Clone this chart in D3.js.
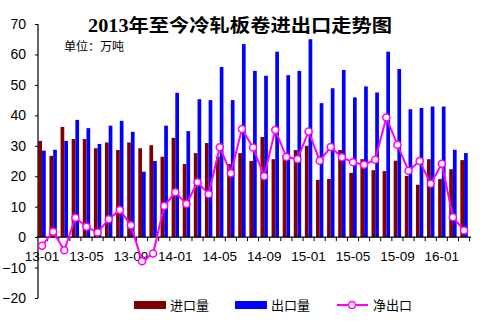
<!DOCTYPE html>
<html><head><meta charset="utf-8">
<script src="https://cdn.jsdelivr.net/npm/d3@7/dist/d3.min.js"></script>
<style>
html,body{margin:0;padding:0;background:#fff;}
svg{display:block;}
</style>
</head><body>
<svg id="c" width="482" height="332"></svg>
<script>
const months = ["13-01","13-02","13-03","13-04","13-05","13-06","13-07","13-08","13-09","13-10","13-11","13-12",
"14-01","14-02","14-03","14-04","14-05","14-06","14-07","14-08","14-09","14-10","14-11","14-12",
"15-01","15-02","15-03","15-04","15-05","15-06","15-07","15-08","15-09","15-10","15-11","15-12",
"16-01","16-02","16-03"];
const imports = [31.6,26.7,36.2,32.2,32.2,29.2,31.1,28.6,31.1,29.2,30.2,26.4,
32.6,24.0,27.6,30.9,26.4,24.0,27.6,25.0,32.9,25.6,26.8,28.6,
30.0,18.8,19.1,28.6,21.1,25.6,22.0,21.7,25.1,20.1,17.2,25.6,
19.1,22.3,25.3];
const exports_ = [28.4,28.7,31.6,38.5,35.8,30.6,36.6,38.2,34.6,21.5,25.0,36.6,
47.4,34.8,45.3,45.0,55.9,45.0,63.4,54.6,53.0,60.9,53.2,54.6,
65.0,44.0,48.9,54.9,45.9,49.5,47.5,60.9,55.2,42.0,42.4,42.9,
42.9,28.7,27.6];
const netExports = [-2.8,1.8,-4.3,6.4,3.4,1.5,5.9,8.9,3.9,-7.9,-5.4,10.2,
14.7,10.9,18.0,14.1,29.5,21.0,35.5,29.4,20.0,35.2,26.3,25.6,
34.7,25.1,29.6,26.2,24.6,23.8,25.4,39.3,30.3,21.8,25.0,17.5,
24.1,6.5,2.2];
const yTicks = [70,60,50,40,30,20,10,0,-10,-20];
const xTickLabels = ["13-01","13-05","13-09","14-01","14-05","14-09","15-01","15-05","15-09","16-01"];
const seriesNames = ["进口量","出口量","净出口"];
const title = "2013年至今冷轧板卷进出口走势图";
const unitText = "单位：万吨";

const RED = "#800000", BLUE = "#0000ff", MAG = "#ff00ff";
const svg = d3.select("#c");
const x = d3.scaleBand().domain(months).range([36.5, 469.6]).padding(0);
const y = d3.scaleLinear().domain([-20, 70]).range([298, 24]);
const bw = x.bandwidth();
const barW = bw / 3;

// bars
svg.append("g").selectAll("rect").data(months).join("rect")
  .attr("x", (d) => x(d) + bw/2 - barW)
  .attr("width", barW)
  .attr("y", (d,i) => y(Math.max(0, imports[i])))
  .attr("height", (d,i) => Math.abs(y(imports[i]) - y(0)))
  .attr("fill", RED);
svg.append("g").selectAll("rect").data(months).join("rect")
  .attr("x", (d) => x(d) + bw/2)
  .attr("width", barW)
  .attr("y", (d,i) => y(Math.max(0, exports_[i])))
  .attr("height", (d,i) => Math.abs(y(exports_[i]) - y(0)))
  .attr("fill", BLUE);

// y axis
const yAxis = d3.axisLeft(y).tickValues(yTicks).tickSize(3).tickPadding(9).tickFormat(d3.format("d"));
const gy = svg.append("g").attr("transform", "translate(38,0)").call(yAxis);
gy.select(".domain").attr("stroke", "#000").attr("stroke-width", 1.2).attr("d", "M0," + y(70) + "V" + y(-20));
gy.selectAll(".tick line").attr("stroke", "#000");
gy.selectAll(".tick text").attr("font-family", "Arial, 'Liberation Sans', sans-serif").attr("font-size", 14).attr("fill", "#000");

// x axis at zero
const xAxis = d3.axisBottom(x).tickValues(months).tickSize(0).tickPadding(13)
  .tickFormat(d => xTickLabels.includes(d) ? d : "");
const gx = svg.append("g").attr("transform", `translate(0,${y(0)})`).call(xAxis);
gx.select(".domain").attr("stroke", "#000").attr("stroke-width", 1.2).attr("d", `M36.5,0H471`);
gx.selectAll(".tick text").attr("font-family", "Arial, 'Liberation Sans', sans-serif").attr("font-size", 13.5).attr("fill", "#000").attr("dy", "0.35em").attr("y", 19);
// category boundary ticks
gx.append("g").selectAll("line").data(months).join("line")
  .attr("x1", d => x(d) + bw).attr("x2", d => x(d) + bw)
  .attr("y1", 0).attr("y2", 4).attr("stroke", "#000");

// net export line
const line = d3.line().x((d,i) => x(months[i]) + bw/2).y(d => y(d));
svg.append("path").datum(netExports).attr("d", line).attr("fill", "none").attr("stroke", MAG).attr("stroke-width", 2);
svg.append("g").selectAll("circle").data(netExports).join("circle")
  .attr("cx", (d,i) => x(months[i]) + bw/2).attr("cy", d => y(d)).attr("r", 3.5)
  .attr("fill", "#fff").attr("stroke", MAG).attr("stroke-width", 1.5);

// title
svg.append("text").attr("x", 88).attr("y", 31.5)
  .attr("font-family", "'Liberation Serif','Noto Sans CJK SC',serif").attr("font-weight", "bold").attr("font-size", 18)
  .attr("textLength", 304).attr("lengthAdjust", "spacingAndGlyphs").text(title);
svg.append("text").attr("x", 64).attr("y", 50.5)
  .attr("font-family", "'Noto Sans CJK SC',sans-serif").attr("font-size", 12).text(unitText);

// legend
const lg = svg.append("g").attr("font-family", "'Noto Sans CJK SC',sans-serif").attr("font-size", 13);
lg.append("rect").attr("x", 134).attr("y", 301).attr("width", 32).attr("height", 8).attr("fill", RED);
lg.append("text").attr("x", 170).attr("y", 310).text(seriesNames[0]);
lg.append("rect").attr("x", 235).attr("y", 301).attr("width", 32).attr("height", 8).attr("fill", BLUE);
lg.append("text").attr("x", 271).attr("y", 310).text(seriesNames[1]);
lg.append("line").attr("x1", 337).attr("x2", 368).attr("y1", 305).attr("y2", 305).attr("stroke", MAG).attr("stroke-width", 2);
lg.append("circle").attr("cx", 352).attr("cy", 305).attr("r", 3.5).attr("fill", "#fff").attr("stroke", MAG).attr("stroke-width", 1.5);
lg.append("text").attr("x", 373).attr("y", 310).text(seriesNames[2]);
</script>
</body></html>
